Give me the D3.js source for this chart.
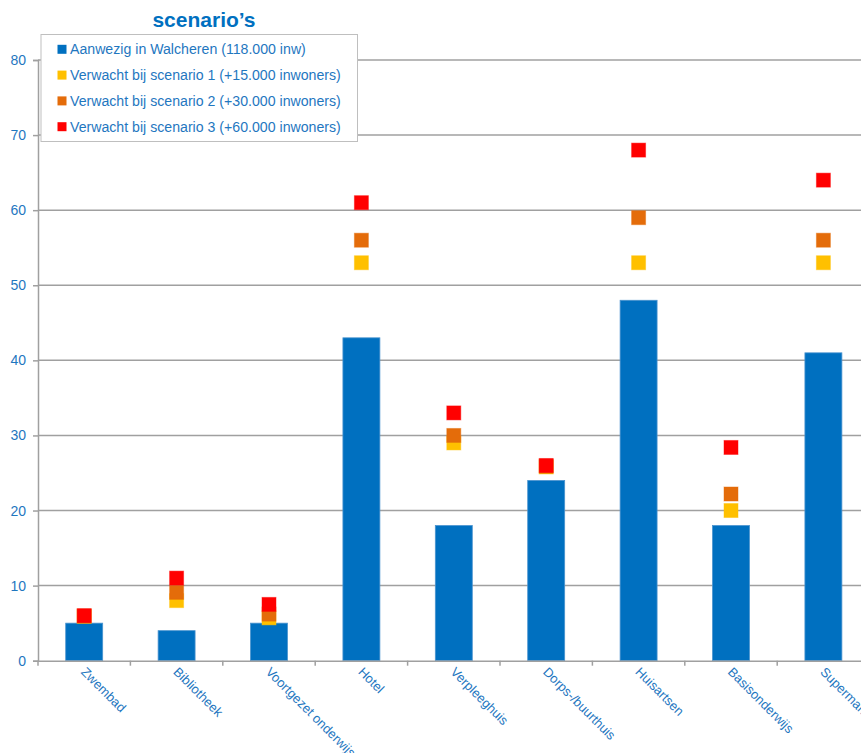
<!DOCTYPE html>
<html>
<head>
<meta charset="utf-8">
<script src="https://cdn.jsdelivr.net/npm/d3@7"></script>
<style>
  html, body { margin: 0; padding: 0; background: #fff; }
  svg { display: block; }
  text { font-family: "Liberation Sans", Arial, sans-serif; }
</style>
</head>
<body>
<svg id="chart" width="861" height="753"></svg>
<script>
// Voorzieningen in Walcheren: huidig aantal en verwachting per scenario
const categories = ["Zwembad", "Bibliotheek", "Voortgezet onderwijs", "Hotel", "Verpleeghuis",
                    "Dorps-/buurthuis", "Huisartsen", "Basisonderwijs", "Supermarkt"];
const aanwezig   = [5, 4, 5, 43, 18, 24, 48, 18, 41];
const scenario1  = [5.9, 8, 5.7, 53, 29, 25.8, 53, 20, 53];
const scenario2  = [5.95, 9.1, 6.2, 56, 30, 25.9, 59, 22.2, 56];
const scenario3  = [6, 11, 7.5, 61, 33, 26, 68, 28.4, 64];
const yTicks     = [0, 10, 20, 30, 40, 50, 60, 70, 80];
const legendLabels = [
  "Aanwezig in Walcheren (118.000 inw)",
  "Verwacht bij scenario 1 (+15.000 inwoners)",
  "Verwacht bij scenario 2 (+30.000 inwoners)",
  "Verwacht bij scenario 3 (+60.000 inwoners)"
];
const titleText = "scenario\u2019s";

const colors = { bar: "#0070C0", s1: "#FFC000", s2: "#E46C0A", s3: "#FF0000" };
const textBlue = "#1F77BF";
const gridGray = "#A0A0A0";

const svg = d3.select("#chart");
const plotLeft = 38, plotTop = 60, plotBottom = 660.7;
const step = 92.4;

const x = d3.scaleBand().domain(categories).range([plotLeft, plotLeft + step * categories.length]).padding(0);
const y = d3.scaleLinear().domain([0, 80]).range([plotBottom, plotTop]);

// Horizontal gridlines
svg.append("g").selectAll("line").data(yTicks.filter(d => d > 0)).join("line")
  .attr("x1", plotLeft).attr("x2", 861)
  .attr("y1", d => y(d)).attr("y2", d => y(d))
  .attr("stroke", gridGray).attr("stroke-width", 1.5);

// Y axis
const yAxis = svg.append("g").attr("transform", `translate(${plotLeft},0)`)
  .call(d3.axisLeft(y).tickValues(yTicks).tickSize(5).tickPadding(7));
yAxis.select(".domain").attr("stroke", gridGray).attr("stroke-width", 1.5);
yAxis.selectAll(".tick line").attr("stroke", gridGray).attr("stroke-width", 1.5);
yAxis.selectAll(".tick text").attr("fill", textBlue).style("font-size", "14px")
  .style("font-family", "'Liberation Sans', Arial, sans-serif");

// Bars: aanwezig
const barW = x.bandwidth() * 0.4;
svg.append("g").selectAll("rect").data(categories).join("rect")
  .attr("x", d => x(d) + (x.bandwidth() - barW) / 2)
  .attr("y", (d, i) => y(aanwezig[i]))
  .attr("width", barW)
  .attr("height", (d, i) => y(0) - y(aanwezig[i]))
  .attr("fill", colors.bar)
  .attr("stroke", "#4A93CF").attr("stroke-width", 0.8);

// X axis
const xAxis = svg.append("g").attr("transform", `translate(0,${y(0)})`)
  .call(d3.axisBottom(x).tickSize(0).tickFormat(""));
xAxis.select(".domain").attr("stroke", gridGray).attr("stroke-width", 1.5);
// tick marks at category boundaries
svg.append("g").selectAll("line").data(d3.range(categories.length + 1)).join("line")
  .attr("x1", i => plotLeft + i * x.step()).attr("x2", i => plotLeft + i * x.step())
  .attr("y1", y(0)).attr("y2", y(0) + 5)
  .attr("stroke", gridGray).attr("stroke-width", 1.5);

// Rotated category labels
svg.append("g").selectAll("text").data(categories).join("text")
  .attr("transform", d => `translate(${x(d) + x.bandwidth() / 2 - 4},${y(0) + 12}) rotate(45)`)
  .attr("fill", textBlue).style("font-size", "13px")
  .text(d => d);

// Scenario markers
const markerSize = 14;
const series = [[scenario1, colors.s1], [scenario2, colors.s2], [scenario3, colors.s3]];
series.forEach(([vals, col]) => {
  svg.append("g").selectAll("rect").data(categories).join("rect")
    .attr("x", d => x(d) + x.bandwidth() / 2 - markerSize / 2)
    .attr("y", (d, i) => y(vals[i]) - markerSize / 2)
    .attr("width", markerSize).attr("height", markerSize)
    .attr("fill", col)
    .attr("stroke", col).attr("stroke-opacity", 0.45).attr("stroke-width", 1);
});

// Legend
const lg = svg.append("g");
lg.append("rect").attr("x", 41).attr("y", 34.5).attr("width", 316.5).attr("height", 107)
  .attr("fill", "#fff").attr("stroke", "#BFBFBF").attr("stroke-width", 1);
const legendColors = [colors.bar, colors.s1, colors.s2, colors.s3];
legendLabels.forEach((lab, i) => {
  const cy = 49.3 + i * 25.8;
  lg.append("rect").attr("x", 57.5).attr("y", cy - 4.5).attr("width", 9).attr("height", 9)
    .attr("fill", legendColors[i]);
  lg.append("text").attr("x", 70).attr("y", cy + 5)
    .attr("fill", textBlue).style("font-size", "14.15px").text(lab);
});

// Title
svg.append("text").attr("x", 204).attr("y", 27).attr("text-anchor", "middle")
  .attr("fill", "#0070C0").style("font-size", "21px").style("font-weight", "bold")
  .text(titleText);
</script>
</body>
</html>
